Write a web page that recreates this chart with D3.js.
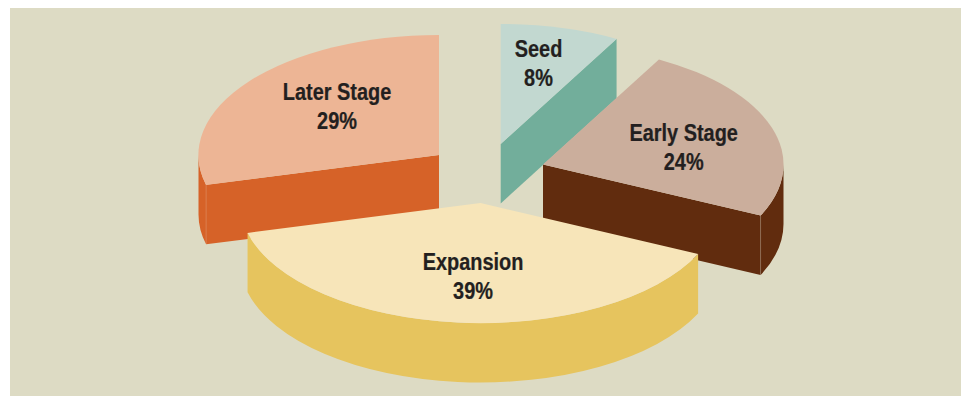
<!DOCTYPE html>
<html>
<head>
<meta charset="utf-8">
<script src="https://cdn.jsdelivr.net/npm/d3@7"></script>
<style>
html,body{margin:0;padding:0;background:#fff;overflow:hidden}
svg{display:block}
text{font-family:"Liberation Sans",sans-serif;font-weight:700;fill:#231f20;stroke:#231f20;stroke-width:0.25;text-anchor:middle}
</style>
</head>
<body>
<svg id="chart" width="961" height="396"></svg>
<script>
const categories = ["Seed", "Early Stage", "Expansion", "Later Stage"];
const shares = [8, 24, 39, 29];
const topColors = ["#c2d8d0", "#cbae9c", "#f7e5b9", "#edb595"];
const wallColors = ["#72ae9b", "#612c0e", "#e6c45e", "#d66228"];

// layout
const W = 961, H = 396, rx = 240.5, ry = 120, depth = 59.5;
const offsets = [[500.7, 144], [543, 164.5], [480.5, 203], [439, 155]];
const labelPos = [[538.5, 57], [683.7, 141], [473, 270], [337, 100]];
const lineGap = 29, fontSize = 24, narrow = 0.83;
const drawOrder = [0, 3, 1, 2];

const svg = d3.select("#chart");
svg.append("rect").attr("x", 10).attr("y", 8).attr("width", W - 10).attr("height", H - 8).attr("fill", "#dddbc4");

const slices = d3.pie().sort(null).value(d => d)(shares);
const arc = d3.arc().innerRadius(0).outerRadius(1);
const d = depth / ry;
const pt = a => [Math.sin(a), -Math.cos(a)];
const toPath = a => a - Math.PI / 2;

function radialWall(a) {
  const [x, y] = pt(a), p = d3.path();
  p.moveTo(0, 0); p.lineTo(x, y); p.lineTo(x, y + d); p.lineTo(0, d); p.closePath();
  return p.toString();
}
function outerWall(a0, a1) {
  const p = d3.path();
  const [x0, y0] = pt(a0), [x1, y1] = pt(a1);
  p.moveTo(x0, y0);
  p.arc(0, 0, 1, toPath(a0), toPath(a1));
  p.lineTo(x1, y1 + d);
  p.arc(0, d, 1, toPath(a1), toPath(a0), true);
  p.closePath();
  return p.toString();
}

drawOrder.forEach(i => {
  const s = slices[i];
  const g = svg.append("g").attr("transform", `translate(${offsets[i][0]},${offsets[i][1]}) scale(${rx},${ry})`);
  const a0 = Math.max(s.startAngle, Math.PI / 2), a1 = Math.min(s.endAngle, 3 * Math.PI / 2);
  const fill = wallColors[i];
  if (a1 > a0) g.append("path").attr("d", outerWall(a0, a1)).attr("fill", fill);
  const seam = [];
  if (Math.sin(s.endAngle) > 1e-6) {
    g.append("path").attr("d", radialWall(s.endAngle)).attr("fill", fill);
    seam.push(s.endAngle);
  }
  if (Math.sin(s.startAngle) < -1e-6) {
    g.append("path").attr("d", radialWall(s.startAngle)).attr("fill", fill);
    seam.push(s.startAngle);
  }
  if (a1 > a0) seam.forEach(a => {
    const [x, y] = pt(a);
    g.append("line").attr("x1", x).attr("y1", y).attr("x2", x).attr("y2", y + d)
      .attr("stroke", "#fff").attr("stroke-opacity", 0.15).attr("stroke-width", 1)
      .attr("vector-effect", "non-scaling-stroke");
  });
  g.append("path").attr("d", arc(s)).attr("fill", topColors[i]);
});

categories.forEach((c, i) => {
  [c, shares[i] + "%"].forEach((line, k) => {
    svg.append("text")
      .attr("font-size", fontSize)
      .attr("transform", `translate(${labelPos[i][0]},${labelPos[i][1] + k * lineGap}) scale(${narrow},1)`)
      .text(line);
  });
});
</script>
</body>
</html>
